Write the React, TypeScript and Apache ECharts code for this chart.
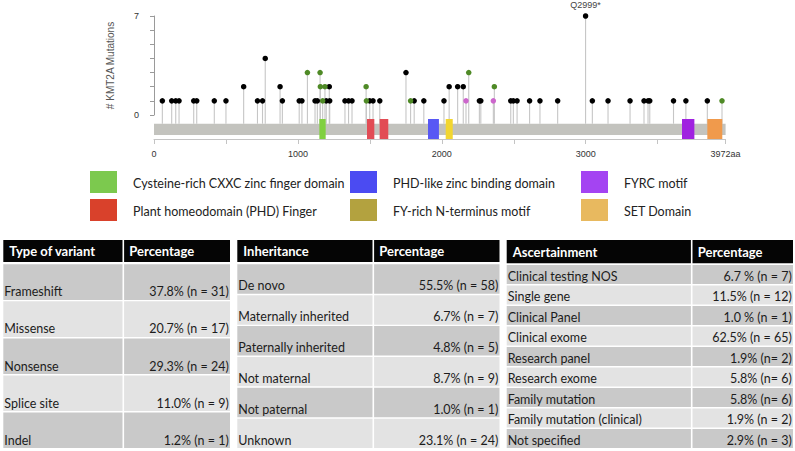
import React, { useEffect, useRef } from 'react';
import * as echarts from 'echarts';

// ---------------- Lollipop data ----------------
const proteinLength = 3972;
const mutationPositions = [58, 123, 151, 174, 276, 297, 419, 500, 623, 719, 754, 773, 876, 892, 1009, 1028, 1066, 1119, 1135, 1154, 1156, 1172, 1188, 1197, 1218, 1221, 1327, 1352, 1376, 1474, 1476, 1499, 1522, 1569, 1751, 1783, 1808, 1875, 2015, 2051, 2110, 2149, 2168, 2187, 2261, 2271, 2358, 2365, 2479, 2497, 2523, 2610, 2682, 2805, 2999, 3046, 3155, 3308, 3405, 3433, 3445, 3610, 3696, 3845, 3947];
const mutationCounts = [1, 1, 1, 1, 1, 1, 1, 1, 2, 1, 1, 4, 2, 1, 1, 1, 3, 1, 1, 3, 2, 1, 2, 1, 2, 1, 1, 1, 1, 2, 1, 1, 1, 1, 3, 1, 1, 1, 1, 2, 2, 2, 1, 3, 1, 1, 1, 2, 1, 1, 1, 1, 1, 1, 7, 1, 1, 1, 1, 1, 1, 1, 1, 1, 1];
// T = truncating (black), M = missense (green), I = in-frame (pink)
const mutationClasses = ['T', 'T', 'T', 'T', 'T', 'T', 'T', 'T', 'T', 'T', 'T', 'T', 'T', 'T', 'T', 'T', 'M', 'T', 'T', 'M', 'M', 'M', 'M', 'T', 'T', 'T', 'T', 'T', 'T', 'M', 'M', 'T', 'T', 'T', 'T', 'M', 'T', 'T', 'T', 'T', 'T', 'T', 'I', 'M', 'T', 'T', 'I', 'M', 'T', 'T', 'T', 'T', 'T', 'T', 'T', 'T', 'T', 'T', 'T', 'T', 'T', 'T', 'T', 'T', 'M'];
const labelledMutationPosition = 2999;
const labelledMutationName = 'Q2999*';

const domainKinds = ['CXXC', 'PHD', 'PHD', 'PHDLIKE', 'FYRN', 'FYRC', 'SET'];
const domainStarts = [1149, 1480, 1568, 1904, 2027, 3669, 3845];
const domainEnds = [1193, 1531, 1628, 1980, 2076, 3755, 3949];

const xTickLabels = [0, 1000, 2000, 3000];
const yTickLabels = [0, 7];
const yAxisTitle = '# KMT2A Mutations';

// ---------------- Legend ----------------
const legendKinds = ['CXXC', 'PHD', 'PHDLIKE', 'FYRN', 'FYRC', 'SET'];
const legendLabels = ['Cysteine-rich CXXC zinc finger domain', 'Plant homeodomain (PHD) Finger', 'PHD-like zinc binding domain', 'FY-rich N-terminus motif', 'FYRC motif', 'SET Domain'];

// ---------------- Tables ----------------
const variantHeaders = ['Type of variant', 'Percentage'];
const variantTypes = ['Frameshift', 'Missense', 'Nonsense', 'Splice site', 'Indel'];
const variantShares = ['37.8% (n = 31)', '20.7% (n = 17)', '29.3% (n = 24)', '11.0% (n = 9)', '1.2% (n = 1)'];

const inheritanceHeaders = ['Inheritance', 'Percentage'];
const inheritanceTypes = ['De novo', 'Maternally inherited', 'Paternally inherited', 'Not maternal', 'Not paternal', 'Unknown'];
const inheritanceShares = ['55.5% (n = 58)', '6.7% (n = 7)', '4.8% (n = 5)', '8.7% (n = 9)', '1.0% (n = 1)', '23.1% (n = 24)'];

const ascertainmentHeaders = ['Ascertainment', 'Percentage'];
const ascertainmentTypes = ['Clinical testing NOS', 'Single gene', 'Clinical Panel', 'Clinical exome', 'Research panel', 'Research exome', 'Family mutation', 'Family mutation (clinical)', 'Not specified'];
const ascertainmentShares = ['6.7 % (n = 7)', '11.5% (n = 12)', '1.0 % (n = 1)', '62.5% (n = 65)', '1.9% (n= 2)', '5.8% (n= 6)', '5.8% (n= 6)', '1.9% (n = 2)', '2.9% (n = 3)'];

// ---------------- Styles / layout ----------------
const TRACK_COLORS: Record<string, string> = {
  CXXC: '#80d040', PHD: '#e24c55', PHDLIKE: '#5858f4', FYRN: '#f2d630', FYRC: '#a022e0', SET: '#f09a4c',
};
const LEGEND_COLORS: Record<string, string> = {
  CXXC: '#7cc94e', PHD: '#d9412b', PHDLIKE: '#4b4bf2', FYRN: '#b3a23f', FYRC: '#a444f2', SET: '#e8b95f',
};
const CLASS_COLORS: Record<string, string> = { T: '#000000', M: '#4f8a26', I: '#cc66cc' };

const GRID_LEFT = 154;
const GRID_WIDTH = 571.6;
const PLOT_TOP = 16;
const PLOT_HEIGHT = 99;
const TRACK_TOP = 119;
const TRACK_HEIGHT = 20;
const BAR_TOP = 0.765;
const BAR_BOTTOM = 0.2;
const STEM_EXTENSION = TRACK_TOP + (1 - BAR_TOP) * TRACK_HEIGHT - (PLOT_TOP + PLOT_HEIGHT);

const FONT = 'Lato';
const BODY_SIZE = 12.5;

function legendGraphics() {
  const els: any[] = [];
  const colX = [90, 350, 581];
  const rowTop = [171, 199];
  legendKinds.forEach((k, i) => {
    const c = Math.floor(i / 2);
    const r = i % 2;
    els.push({
      type: 'rect',
      shape: { x: colX[c], y: rowTop[r], width: 27, height: 22 },
      style: { fill: LEGEND_COLORS[k] },
    });
    els.push({
      type: 'text',
      x: colX[c] + 43,
      y: rowTop[r] + 12.5,
      style: {
        text: legendLabels[i], fill: '#222', fontSize: BODY_SIZE, fontFamily: FONT,
        textAlign: 'left', textVerticalAlign: 'middle',
      },
    });
  });
  return els;
}

function tableGraphics(t: {
  x0: number; x1: number; xDiv: number; headTop: number; headBottom: number; bodyTop: number; bodyBottom: number;
  headers: string[]; labels: string[]; values: string[];
}) {
  const els: any[] = [];
  const gap = 0.8;
  els.push({ type: 'rect', shape: { x: t.x0, y: t.headTop, width: t.xDiv - gap - t.x0, height: t.headBottom - t.headTop }, style: { fill: '#050505' } });
  els.push({ type: 'rect', shape: { x: t.xDiv + gap, y: t.headTop, width: t.x1 - t.xDiv - gap, height: t.headBottom - t.headTop }, style: { fill: '#050505' } });
  const hy = (t.headTop + t.headBottom) / 2;
  els.push({ type: 'text', x: t.x0 + 6, y: hy, style: { text: t.headers[0], fill: '#fff', fontSize: 13, fontWeight: 'bold', fontFamily: FONT, textAlign: 'left', textVerticalAlign: 'middle' } });
  els.push({ type: 'text', x: t.xDiv + 6, y: hy, style: { text: t.headers[1], fill: '#fff', fontSize: 13, fontWeight: 'bold', fontFamily: FONT, textAlign: 'left', textVerticalAlign: 'middle' } });
  const n = t.labels.length;
  const rowH = (t.bodyBottom - t.bodyTop) / n;
  for (let i = 0; i < n; i++) {
    const y = t.bodyTop + i * rowH;
    const fill = i % 2 === 0 ? '#c9c9c9' : '#e3e3e3';
    const h = rowH - 1.4;
    els.push({ type: 'rect', shape: { x: t.x0, y, width: t.xDiv - gap - t.x0, height: h }, style: { fill } });
    els.push({ type: 'rect', shape: { x: t.xDiv + gap, y, width: t.x1 - t.xDiv - gap, height: h }, style: { fill } });
    const ty = y + h - 8;
    els.push({ type: 'text', x: t.x0 + 1, y: ty, style: { text: t.labels[i], fill: '#1c1c1c', fontSize: BODY_SIZE, fontFamily: FONT, textAlign: 'left', textVerticalAlign: 'middle' } });
    els.push({ type: 'text', x: t.x1 - 1.2, y: ty, style: { text: t.values[i], fill: '#1c1c1c', fontSize: BODY_SIZE, fontFamily: FONT, textAlign: 'right', textVerticalAlign: 'middle' } });
  }
  return els;
}

export default function App() {
  const ref = useRef<HTMLDivElement>(null);

  useEffect(() => {
    if (!ref.current) return;
    const chart = echarts.init(ref.current, undefined, { renderer: 'svg' });

    const mutationData = mutationPositions.map((p, i) => [p, mutationCounts[i]]);
    const headSeries = ['T', 'M', 'I'].map((cls) => ({
      type: 'scatter',
      xAxisIndex: 0,
      yAxisIndex: 0,
      symbolSize: 5.5,
      z: 5,
      itemStyle: { color: CLASS_COLORS[cls], opacity: 1 },
      data: mutationPositions
        .map((p, i) => ({ p, i }))
        .filter(({ i }) => mutationClasses[i] === cls)
        .map(({ p, i }) =>
          p === labelledMutationPosition
            ? {
                value: [p, mutationCounts[i]],
                label: {
                  show: true, position: 'top', distance: 4, formatter: labelledMutationName,
                  fontSize: 9, color: '#444', fontFamily: 'Liberation Sans',
                },
              }
            : { value: [p, mutationCounts[i]] }
        ),
    }));

    const option: any = {
      animation: false,
      backgroundColor: '#ffffff',
      grid: [
        { left: GRID_LEFT, top: PLOT_TOP, width: GRID_WIDTH, height: PLOT_HEIGHT },
        { left: GRID_LEFT, top: TRACK_TOP, width: GRID_WIDTH, height: TRACK_HEIGHT },
      ],
      xAxis: [
        { type: 'value', gridIndex: 0, min: 0, max: proteinLength, show: false },
        {
          type: 'value', gridIndex: 1, min: 0, max: proteinLength, interval: 500,
          position: 'bottom', offset: 4,
          axisLine: { show: true, lineStyle: { color: '#c4c4c4', width: 1 } },
          axisTick: { show: true, length: 5, lineStyle: { color: '#c4c4c4' } },
          axisLabel: {
            fontSize: 9, color: '#333', fontFamily: 'Liberation Sans', margin: 6,
            showMaxLabel: true, showMinLabel: true,
            formatter: (v: number) =>
              v === proteinLength ? `${proteinLength}aa` : xTickLabels.includes(v) ? String(v) : '',
          },
          splitLine: { show: false },
        },
      ],
      yAxis: [
        {
          type: 'value', gridIndex: 0, min: 0, max: 7, interval: 1, offset: 9,
          axisLine: { show: true, lineStyle: { color: '#9a9a9a' } },
          axisTick: { show: true, length: 4, lineStyle: { color: '#9a9a9a' } },
          axisLabel: {
            fontSize: 9, color: '#333', fontFamily: 'Liberation Sans', margin: 6,
            formatter: (v: number) => (yTickLabels.includes(v) ? String(v) : ''),
          },
          splitLine: { show: false },
          name: yAxisTitle, nameLocation: 'middle', nameGap: 30, nameRotate: 90,
          nameTextStyle: { fontSize: 10, color: '#555', fontFamily: 'Liberation Sans' },
        },
        { type: 'value', gridIndex: 1, min: 0, max: 1, show: false },
      ],
      series: [
        {
          type: 'custom',
          xAxisIndex: 0,
          yAxisIndex: 0,
          z: 2,
          clip: false,
          data: mutationData,
          renderItem: (params: any, api: any) => {
            const top = api.coord([api.value(0), api.value(1)]);
            const base = api.coord([api.value(0), 0]);
            return {
              type: 'line',
              shape: { x1: top[0], y1: top[1], x2: top[0], y2: base[1] + STEM_EXTENSION },
              style: { stroke: '#c6c6c6', lineWidth: 1.1 },
            };
          },
        },
        {
          type: 'custom',
          xAxisIndex: 1,
          yAxisIndex: 1,
          z: 3,
          data: [[0, proteinLength]],
          renderItem: (params: any, api: any) => {
            const a = api.coord([api.value(0), BAR_TOP]);
            const b = api.coord([api.value(1), BAR_BOTTOM]);
            return { type: 'rect', shape: { x: a[0], y: a[1], width: b[0] - a[0], height: b[1] - a[1] }, style: { fill: '#c3c3be' } };
          },
        },
        {
          type: 'custom',
          xAxisIndex: 1,
          yAxisIndex: 1,
          z: 4,
          data: domainStarts.map((s, i) => [s, domainEnds[i], i]),
          renderItem: (params: any, api: any) => {
            const a = api.coord([api.value(0), 1]);
            const b = api.coord([api.value(1), 0]);
            const kind = domainKinds[api.value(2)];
            return { type: 'rect', shape: { x: a[0], y: a[1], width: b[0] - a[0], height: b[1] - a[1] }, style: { fill: TRACK_COLORS[kind] } };
          },
        },
        ...headSeries,
      ],
      graphic: {
        elements: [
          ...legendGraphics(),
          ...tableGraphics({ x0: 3.3, x1: 230, xDiv: 123.3, headTop: 240, headBottom: 262, bodyTop: 264.3, bodyBottom: 449.5, headers: variantHeaders, labels: variantTypes, values: variantShares }),
          ...tableGraphics({ x0: 237.3, x1: 499.5, xDiv: 373.3, headTop: 240, headBottom: 262, bodyTop: 264.3, bodyBottom: 449.5, headers: inheritanceHeaders, labels: inheritanceTypes, values: inheritanceShares }),
          ...tableGraphics({ x0: 506.7, x1: 793, xDiv: 691.7, headTop: 240, headBottom: 263.3, bodyTop: 265, bodyBottom: 449.5, headers: ascertainmentHeaders, labels: ascertainmentTypes, values: ascertainmentShares }),
        ],
      },
    };

    chart.setOption(option);
    return () => chart.dispose();
  }, []);

  return <div ref={ref} style={{ position: 'fixed', left: 0, top: 0, width: 795, height: 451 }} />;
}
